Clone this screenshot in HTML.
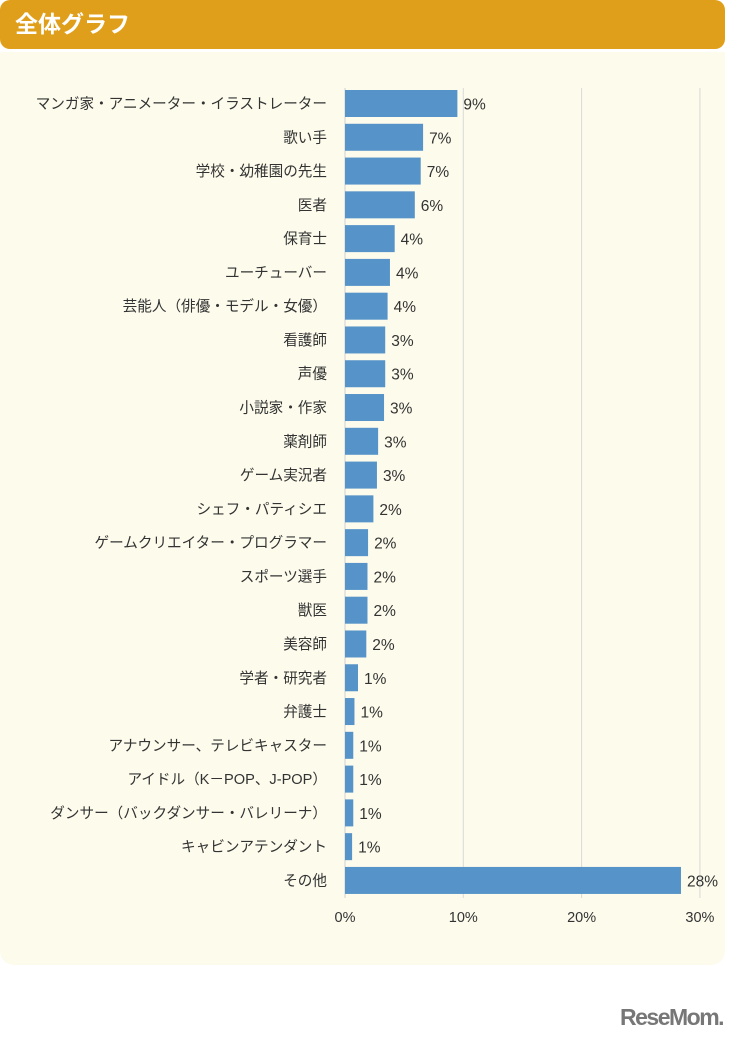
<!DOCTYPE html>
<html><head><meta charset="utf-8"><style>
body{margin:0;width:730px;height:1040px;background:#fff;position:relative;font-family:"Liberation Sans","Noto Sans CJK JP",sans-serif;overflow:hidden}
#hdr{position:absolute;left:0;top:0;width:725px;height:49px;background:#E09F1B;border-radius:10px;color:#fff;font-weight:bold;font-size:23px;line-height:48px;padding-left:0}
#hdr span{position:absolute;left:15px;top:0}
#panel{position:absolute;left:0;top:52px;width:725px;height:913px;background:#FDFBEC;border-radius:0 0 14px 14px}
#logo{position:absolute;left:620px;top:1004px;font-size:23px;font-weight:bold;color:#777;letter-spacing:-1.5px;font-family:"Liberation Sans",sans-serif}
</style></head><body>
<div id="hdr"><span>全体グラフ</span></div>
<div id="panel"></div>
<svg id="chart" width="730" height="1040" style="position:absolute;left:0;top:0"></svg>
<div id="logo">ReseMom.</div>
<script>
const categories=["マンガ家・アニメーター・イラストレーター","歌い手","学校・幼稚園の先生","医者","保育士","ユーチューバー","芸能人（俳優・モデル・女優）","看護師","声優","小説家・作家","薬剤師","ゲーム実況者","シェフ・パティシエ","ゲームクリエイター・プログラマー","スポーツ選手","獣医","美容師","学者・研究者","弁護士","アナウンサー、テレビキャスター","アイドル（K－POP、J-POP）","ダンサー（バックダンサー・バレリーナ）","キャビンアテンダント","その他"];
const values=[9.5,6.6,6.4,5.9,4.2,3.8,3.6,3.4,3.4,3.3,2.8,2.7,2.4,1.95,1.9,1.9,1.8,1.1,0.8,0.7,0.7,0.7,0.6,28.4];
const valueLabels=["9%","7%","7%","6%","4%","4%","4%","3%","3%","3%","3%","3%","2%","2%","2%","2%","2%","1%","1%","1%","1%","1%","1%","28%"];
const ticks=[0,10,20,30];
const tickLabels=["0%","10%","20%","30%"];
const NS="http://www.w3.org/2000/svg";
const svg=document.getElementById('chart');
const x0=345,pxPer=11.83,top0=90,step=33.78,bh=27;
const xs=v=>x0+v*pxPer;
const ys=i=>top0+i*step;
function mk(t,a){const e=document.createElementNS(NS,t);for(const k in a)e.setAttribute(k,a[k]);svg.appendChild(e);return e;}
ticks.forEach((t,i)=>{
 const l=mk('line',{x1:xs(t),x2:xs(t),y1:88,y2:898,stroke:i==0?'#cfcfcf':'#d9d9d9','stroke-width':1});
 
 
 const tx=mk('text',{x:xs(t),y:922,'text-anchor':'middle','font-size':14.5,fill:'#333'});
 tx.textContent=tickLabels[i];
 
 
});
categories.forEach((c,i)=>{
 const y=ys(i);
 const r=mk('rect',{x:x0,y:y,width:xs(values[i])-x0,height:bh,fill:'#5593C8'});
 
 
 const lb=mk('text',{x:327,y:y+bh/2+5,'text-anchor':'end','font-size':14.6,fill:'#333'});
 lb.textContent=c;
 
 
 const vl=mk('text',{x:xs(values[i])+6,y:y+bh/2+6,'font-size':15.5,fill:'#333'});
 vl.textContent=valueLabels[i];
 
 
});
</script>
</body></html>
